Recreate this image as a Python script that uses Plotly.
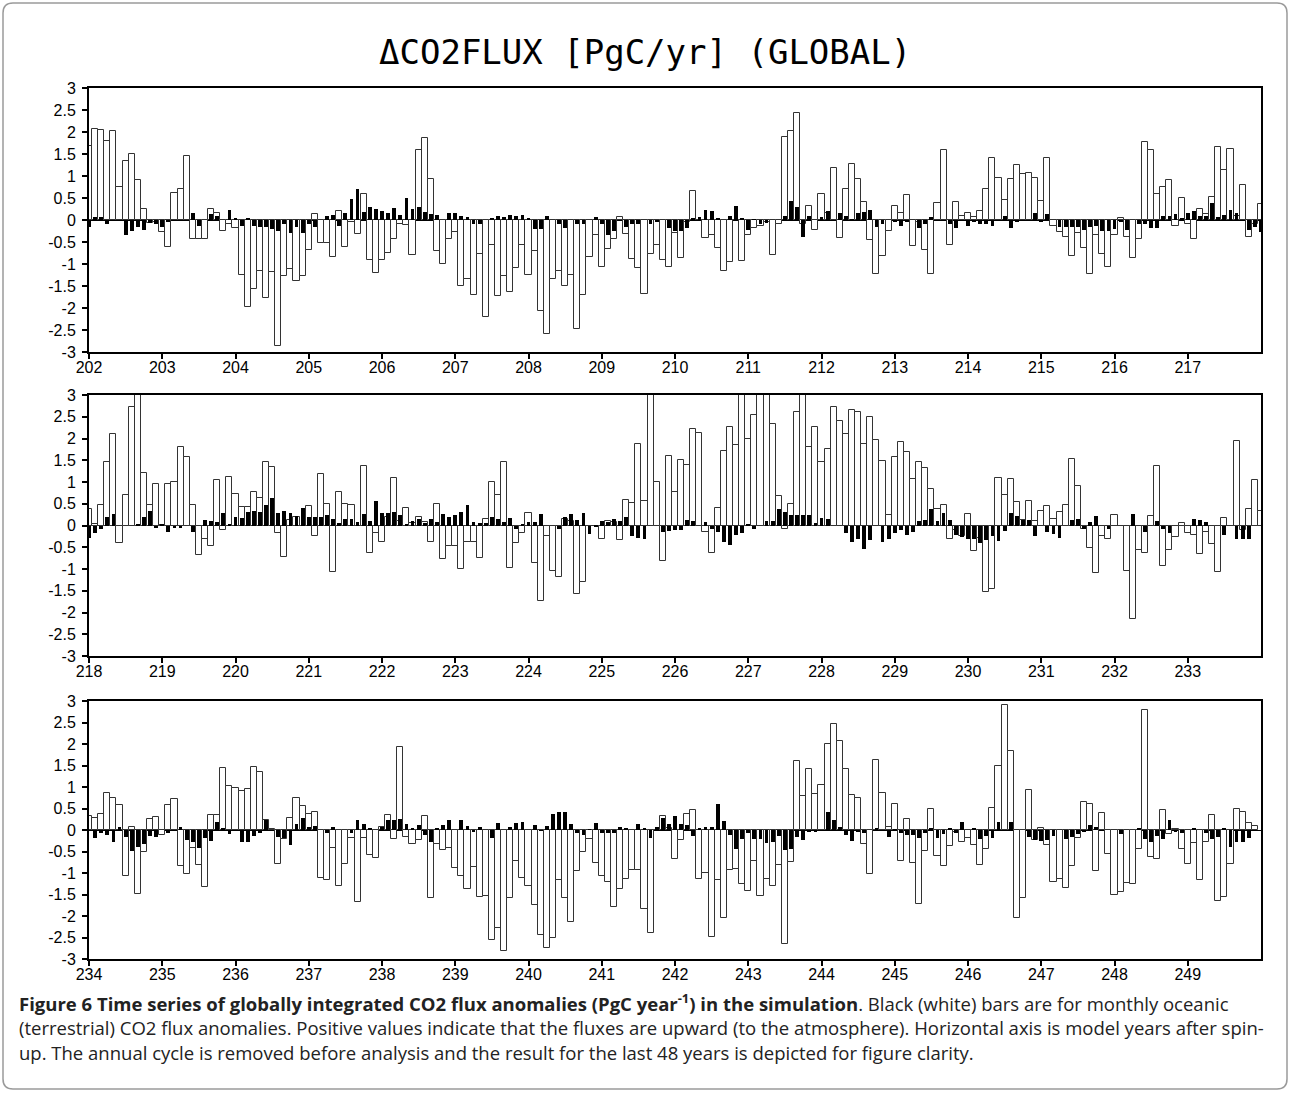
import plotly.graph_objects as go

# ---------------- data (PgC/yr anomalies, monthly) ----------------
panel_start_years = [202, 218, 234]
y_tick_values = [3, 2.5, 2, 1.5, 1, 0.5, 0, -0.5, -1, -1.5, -2, -2.5, -3]

# Panel 1: years 202-217 ; white = terrestrial, black = oceanic
land1 = [1.69, 2.06, 2.04, 1.8, 2.02, 0.74, 1.35, 1.51, 0.92, 0.26, -0.07, -0.05,
         -0.28, -0.62, 0.62, 0.7, 1.45, -0.43, -0.43, -0.43, 0.24, 0.17, -0.24, -0.08,
         -0.18, -1.24, -1.97, -1.57, -1.16, -1.77, -1.18, -2.87, -1.27, -1.11, -1.38, -1.28,
         -0.68, 0.14, -0.53, -0.53, -0.83, 0.2, -0.62, -0.05, -0.32, 0.58, -0.92, -1.2,
         -0.9, -0.75, -0.44, -0.1, -0.11, -0.8, 1.59, 1.86, 0.93, -0.71, -0.99, -0.43,
         -0.28, -1.5, -1.33, -1.71, -0.77, -2.21, -0.56, -1.73, -1.27, -1.63, -1.1, -0.56,
         -1.26, -0.71, -2.06, -2.6, -1.35, -1.17, -1.5, -1.26, -2.48, -1.71, -0.84, -0.33,
         -1.07, -0.66, -0.43, 0.07, -0.32, -0.88, -1.1, -1.69, -0.77, -0.57, -0.92, -1.07,
         -0.3, -0.87, -0.05, 0.65, 0.0, -0.41, -0.35, -0.64, -1.17, -0.95, 0.0, -0.93,
         -0.35, -0.18, -0.13, -0.05, -0.79, -0.09, 1.88, 2.03, 2.44, -0.09, 0.32, -0.22,
         0.58, 0.15, 1.19, -0.41, 0.71, 1.27, 0.94, 0.4, -0.45, -1.22, -0.81, -0.24,
         0.31, 0.15, 0.56, -0.58, -0.05, -0.68, -1.22, 0.39, 1.58, -0.56, 0.4, 0.08,
         0.16, 0.07, 0.21, 0.71, 1.42, 0.96, 0.46, 0.94, 1.26, 1.04, 1.07, 0.95,
         0.43, 1.41, -0.13, -0.28, -0.39, -0.82, -0.3, -0.63, -1.22, -0.35, -0.77, -1.07,
         -0.35, 0.04, -0.38, -0.86, -0.44, 1.77, 1.58, 0.58, 0.75, 0.92, -0.14, 0.51,
         -0.09, -0.43, 0.26, 0.14, 0.53, 1.66, 1.13, 1.62, 0.1, 0.8, -0.39, -0.1]
ocean1 = [-0.15, 0.06, 0.06, -0.08, 0, 0, -0.35, -0.24, -0.15, -0.22, -0.07, -0.08,
          -0.15, -0.03, 0, 0, 0, 0.16, -0.13, 0, 0.14, 0.1, 0, 0.23,
          0.05, -0.13, 0.05, -0.13, -0.15, -0.15, -0.2, -0.26, -0.09, -0.29, -0.15, -0.29,
          -0.09, -0.15, 0, 0.08, 0.11, -0.13, 0.17, 0.47, 0.7, 0.19, 0.3, 0.25,
          0.21, 0.16, 0.27, 0.12, 0.51, 0.25, 0.3, 0.19, 0.14, 0.11, 0, 0.16,
          0.16, 0.1, 0.06, -0.09, -0.09, 0, 0.04, 0.09, 0.06, 0.11, 0.09, 0.11,
          0.05, -0.2, -0.2, 0.09, 0, -0.09, -0.18, 0, -0.09, -0.09, 0, 0.06,
          -0.09, -0.33, -0.26, 0, -0.17, -0.09, -0.09, 0, -0.09, -0.05, 0, -0.18,
          -0.24, -0.24, -0.18, 0.04, 0.06, 0.23, 0.2, 0.04, 0, 0.08, 0.32, 0.04,
          -0.22, 0.02, -0.09, -0.07, 0, 0, 0.09, 0.44, 0.3, -0.38, 0.09, 0,
          0.06, 0.2, -0.02, 0.16, 0.09, 0.02, 0.16, 0.19, 0.23, -0.17, -0.08, 0,
          -0.03, -0.13, -0.05, 0, -0.19, -0.09, 0.06, 0, 0, -0.09, -0.18, 0,
          -0.13, -0.05, -0.09, -0.09, -0.13, 0, 0.09, -0.19, -0.05, 0, 0, 0.16,
          -0.03, 0.14, 0, -0.15, -0.17, -0.17, -0.17, -0.22, -0.17, -0.13, -0.24, -0.26,
          -0.2, -0.05, -0.22, 0, -0.09, -0.08, -0.18, -0.18, 0.09, 0.09, 0.14, 0.04,
          0.16, 0.2, 0.09, 0.09, 0.38, 0.06, 0.11, 0.23, 0.16, 0, -0.22, -0.17]

# Panel 2: years 218-233
land2 = [0.37, 0.03, 0.48, 1.45, 2.11, -0.4, 0.71, 2.72, 3.2, 1.21, 0.48, 0.96,
         0.02, 0.96, 1.01, 1.8, 1.58, 0.48, -0.68, -0.3, -0.48, 1.04, -0.11, 1.12,
         0.72, 0.43, 0.42, 0.77, 0.63, 1.47, 1.35, -0.18, -0.73, 0.13, 0.2, 0.0,
         0.44, -0.24, 1.18, 0.5, -1.06, 0.77, 0.5, 0.47, -0.02, 1.37, -0.64, -0.17,
         -0.38, 0.2, 1.1, 0.1, 0.41, 0.05, 0.2, 0.09, -0.37, 0.49, -0.77, -0.47,
         -0.46, -0.99, -0.37, -0.37, -0.74, 0.16, 0.99, 0.69, 1.45, -0.97, -0.41, -0.18,
         0.28, -0.87, -1.73, -0.25, -1.04, -1.18, 0.14, 0.1, -1.57, -1.31, -0.02, 0.0,
         -0.3, 0.1, 0.08, -0.33, 0.58, 0.52, 1.87, 0.57, 3.3, 1.01, -0.82, 1.6,
         0.76, 1.51, 1.4, 2.23, 2.12, -0.15, -0.63, 0.41, 1.71, 2.26, 1.84, 3.3,
         2.0, 2.55, 3.3, 3.3, 2.34, 0.67, -0.07, 0.5, 2.62, 3.3, 1.81, 2.26,
         1.45, 1.77, 2.72, 2.41, 2.11, 2.66, 2.62, 1.87, 2.5, 1.97, 1.48, 0.25,
         1.58, 1.93, 1.68, 1.08, 1.45, 1.32, 0.85, 0.39, 0.47, -0.32, -0.1, -0.24,
         0.26, -0.58, -0.28, -1.54, -1.47, 1.1, 0.69, 1.06, 0.54, 0.13, 0.57, 0.1,
         0.34, 0.45, 0.15, 0.32, 0.47, 1.54, 0.9, -0.07, -0.51, -1.1, -0.25, -0.3,
         0.25, 0.0, -1.05, -2.14, -0.57, -0.64, 0.22, 1.36, -0.93, -0.56, -0.27, 0.05,
         -0.18, -0.22, -0.66, -0.15, -0.43, -1.07, 0.18, 0.0, 1.94, -0.11, 0.38, 1.04]
ocean2 = [-0.28, -0.18, -0.08, 0.19, 0.27, 0, 0, 0, 0.02, 0.19, 0.34, -0.06,
          0.02, -0.15, -0.05, -0.06, 0, -0.14, 0, 0.12, 0.1, 0.08, 0.28, 0.02,
          0.19, 0.18, 0.31, 0.34, 0.31, 0.47, 0.64, 0.29, 0.34, 0.28, 0.22, 0.41,
          0.2, 0.2, 0.2, 0.25, 0.16, 0.06, 0.14, 0.16, 0.08, 0.27, 0.1, 0.57,
          0.28, 0.28, 0.31, 0.25, 0.04, 0.11, 0.16, 0.05, 0.15, 0.08, 0.27, 0.2,
          0.24, 0.31, 0.47, 0.08, 0.06, 0.06, 0.2, 0.15, 0.08, 0.18, -0.08, 0.03,
          0.08, 0.08, 0.27, 0, 0, -0.08, 0.19, 0.27, 0.13, 0.28, -0.2, -0.03,
          0.11, 0.08, 0.15, 0.11, 0.19, -0.24, -0.28, -0.31, 0, 0, -0.15, -0.13,
          -0.11, -0.11, 0.13, 0.11, 0, 0.08, -0.07, -0.14, -0.39, -0.44, -0.21, -0.18,
          0.03, -0.07, 0, 0.1, 0.1, 0.37, 0.31, 0.24, 0.24, 0.24, 0.24, 0.05,
          0.18, 0.15, 0, 0, -0.18, -0.39, -0.32, -0.54, -0.34, 0, -0.37, -0.32,
          -0.18, -0.11, -0.21, -0.14, 0.11, 0.13, 0.37, 0.11, 0.29, 0.13, -0.22, -0.26,
          -0.3, -0.3, -0.41, -0.34, -0.24, -0.36, -0.13, 0.29, 0.22, 0.13, 0.13, -0.25,
          0, -0.16, -0.2, -0.28, 0, 0.13, 0.15, -0.08, 0.08, 0.22, 0, -0.08,
          0, 0, 0, 0.26, 0, -0.16, 0, 0.1, -0.08, -0.18, 0, 0,
          0, 0.16, 0.13, 0.08, 0, 0, -0.22, 0, -0.3, -0.3, -0.3, 0]

# Panel 3: years 234-249
land3 = [0.33, 0.27, 0.38, 0.85, 0.74, 0.59, -1.06, 0.07, -1.49, -0.5, 0.25, 0.31,
         -0.12, 0.59, 0.71, -0.83, -1.02, -0.41, -0.81, -1.33, 0.35, 0.35, 1.45, 1.03,
         0.97, 0.91, 0.95, 1.47, 1.36, 0.23, 0.03, -0.79, -0.2, 0.29, 0.74, 0.56,
         0.37, 0.41, -1.11, -1.17, -0.42, -1.3, -0.78, -0.19, -1.68, -0.19, -0.59, -0.64,
         0.07, 0.36, -0.22, 1.93, -0.17, -0.32, -0.23, 0.32, -1.57, -0.33, -0.46, -0.41,
         -0.88, -1.06, -1.38, -0.85, -1.56, -1.54, -2.55, -2.27, -2.81, -1.57, -0.71, -1.12,
         -1.31, -1.75, -2.45, -2.75, -2.51, -1.17, -1.57, -2.15, -0.96, -0.5, -0.22, -0.76,
         -1.07, -1.2, -1.8, -1.38, -1.14, -0.93, -0.93, -1.84, -2.4, 0.0, 0.33, 0.05,
         -0.67, -0.23, 0.38, 0.46, -1.15, -1.0, -2.48, -1.16, -2.05, -0.93, -0.91, -1.26,
         -1.41, -0.72, -1.53, -1.14, -1.3, -0.82, -2.65, -0.74, 1.6, 0.8, 1.42, 0.83,
         1.04, 2.01, 2.46, 2.08, 1.43, 0.81, 0.74, -0.33, -1.03, 1.62, 0.85, 0.07,
         0.6, -0.72, 0.25, -0.76, -1.72, -0.49, 0.5, -0.6, -0.84, -0.37, -0.04, -0.27,
         -0.18, -0.34, -0.81, -0.44, 0.52, 1.5, 2.91, 1.84, -2.05, -1.59, 0.93, -0.23,
         0.04, -0.36, -1.2, -1.14, -1.36, -0.84, -0.18, 0.64, 0.61, -0.95, 0.39, -0.56,
         -1.52, -1.45, -1.23, -1.26, -0.44, 2.78, -0.63, -0.68, 0.46, -0.1, 0.02, -0.44,
         -0.78, -0.31, -1.17, -0.29, 0.36, -1.65, -1.55, -0.78, 0.5, 0.43, 0.17, 0.1]
ocean3 = [0, -0.19, -0.06, -0.12, -0.27, 0.06, -0.16, -0.48, -0.4, -0.33, -0.13, -0.17,
          0, -0.08, -0.02, 0.06, -0.23, -0.29, -0.43, -0.19, -0.25, 0.18, 0.05, -0.1,
          0, -0.27, -0.27, -0.13, -0.06, 0.23, 0, -0.16, -0.19, -0.36, 0.14, 0.29,
          0.06, 0.09, 0, -0.08, 0.06, 0, 0, -0.08, 0.23, 0.14, 0.05, 0,
          0.07, 0.23, 0.23, 0.26, 0.14, 0.05, 0.12, -0.12, -0.29, 0.05, 0.12, 0.23,
          0, 0.23, 0.09, -0.05, 0.06, 0, -0.19, 0.16, 0, 0.07, 0.16, 0.19,
          0, 0.12, -0.02, 0.09, 0.37, 0.42, 0.42, 0.14, -0.08, -0.12, 0.02, 0.16,
          -0.08, -0.08, -0.08, 0.07, 0.05, 0, 0.14, 0.05, -0.19, 0.06, 0.29, 0.14,
          0.33, 0.14, 0.12, -0.13, 0.05, 0.07, 0.08, 0.6, 0.2, -0.12, -0.44, -0.2,
          -0.07, -0.2, -0.2, -0.3, -0.27, -0.14, -0.47, -0.45, -0.17, -0.23, -0.05, -0.05,
          0, 0.42, 0.24, 0.07, -0.11, -0.25, -0.05, -0.06, 0, 0.04, 0, -0.16,
          0.02, -0.08, -0.12, -0.12, -0.19, -0.08, 0.04, -0.19, -0.1, 0.04, -0.08, 0.18,
          0, 0.05, -0.22, -0.13, -0.19, 0.18, 0, 0.18, 0, 0, -0.17, -0.23,
          -0.25, -0.23, -0.14, 0, -0.22, -0.17, -0.1, -0.05, 0.12, 0.07, 0, 0,
          0, -0.1, 0, 0, 0.03, -0.22, -0.29, -0.13, -0.22, 0.24, -0.05, -0.08,
          0, 0.03, 0, -0.06, -0.22, -0.16, 0.05, -0.39, -0.27, -0.27, -0.19, 0]

title_text = "ΔCO2FLUX [PgC/yr] (GLOBAL)"
caption_lines = [
    "<b>Figure 6 Time series of globally integrated CO2 flux anomalies (PgC year<sup>-1</sup>) in the simulation</b>. "
    "Black (white) bars are for monthly oceanic",
    "(terrestrial) CO2 flux anomalies. Positive values indicate that the fluxes are upward (to the atmosphere). "
    "Horizontal axis is model years after spin-",
    "up. The annual cycle is removed before analysis and the result for the last 48 years is depicted for figure clarity.",
]

# ---------------- layout helpers ----------------
W, H = 1290, 1096
X0, X1 = 89, 1261
panel_px = [(88, 352), (395, 656), (701, 959)]


def px(x):
    return x / W


def py(y):
    return 1 - y / H


lands = [land1, land2, land3]
oceans = [ocean1, ocean2, ocean3]

fig = go.Figure()
layout_axes = {}
for i in range(3):
    s = panel_start_years[i]
    land = list(lands[i])
    ocean = list(oceans[i])
    if i < 2:  # first month of next panel, half-visible at the right edge
        land.append(lands[i + 1][0])
        ocean.append(oceans[i + 1][0])
    xs = [s + k / 12 for k in range(len(land))]
    xa = "x" if i == 0 else f"x{i + 1}"
    ya = "y" if i == 0 else f"y{i + 1}"
    fig.add_trace(go.Bar(x=xs, y=land, width=1 / 12,
                         marker=dict(color="white", line=dict(color="#333333", width=1)),
                         xaxis=xa, yaxis=ya, showlegend=False, name="terrestrial"))
    fig.add_trace(go.Bar(x=xs, y=ocean, width=0.62 / 12,
                         marker=dict(color="black", line=dict(width=0)),
                         xaxis=xa, yaxis=ya, showlegend=False, name="oceanic"))
    top, bot = panel_px[i]
    xkey = "xaxis" if i == 0 else f"xaxis{i + 1}"
    ykey = "yaxis" if i == 0 else f"yaxis{i + 1}"
    ticks_x = list(range(s, s + 16))
    layout_axes[xkey] = dict(
        domain=[px(X0), px(X1)], range=[s, s + 16], anchor=ya, automargin=False,
        tickmode="array", tickvals=ticks_x, ticktext=[str(t) for t in ticks_x],
        ticks="outside", ticklen=5, tickwidth=1.5, tickcolor="black",
        showline=True, linewidth=2, linecolor="black", mirror=True,
        showgrid=False, zeroline=False,
        tickfont=dict(family="Liberation Sans", size=16, color="black"),
    )
    layout_axes[ykey] = dict(
        domain=[py(bot), py(top)], range=[-3, 3], anchor=xa, automargin=False,
        tickmode="array", tickvals=y_tick_values,
        ticktext=[f"{v:g}" for v in y_tick_values],
        ticks="outside", ticklen=5, tickwidth=1.5, tickcolor="black",
        showline=True, linewidth=2, linecolor="black", mirror=True,
        showgrid=False, zeroline=True, zerolinecolor="black", zerolinewidth=1,
        tickfont=dict(family="Liberation Sans", size=16, color="black"),
    )

annotations = [dict(x=0.5, y=py(52), xref="paper", yref="paper", text=title_text,
                    showarrow=False, xanchor="center", yanchor="middle",
                    font=dict(family="DejaVu Sans Mono", size=34, color="black"))]
for j, line in enumerate(caption_lines):
    annotations.append(dict(x=px(17), y=py(1002 + 25 * j), xref="paper", yref="paper",
                            text=line, showarrow=False, xanchor="left", yanchor="middle",
                            font=dict(family="Open Sans", size=18.5, color="#222222")))

# rounded outer border
r = 10
L, T, R, B = 3, 3, 1287, 1089
path = (f"M {px(L + r)},{py(T)} L {px(R - r)},{py(T)} Q {px(R)},{py(T)} {px(R)},{py(T + r)} "
        f"L {px(R)},{py(B - r)} Q {px(R)},{py(B)} {px(R - r)},{py(B)} "
        f"L {px(L + r)},{py(B)} Q {px(L)},{py(B)} {px(L)},{py(B - r)} "
        f"L {px(L)},{py(T + r)} Q {px(L)},{py(T)} {px(L + r)},{py(T)} Z")
shapes = [dict(type="path", xref="paper", yref="paper", path=path,
               line=dict(color="#9a9a9a", width=1.5), fillcolor="rgba(0,0,0,0)")]

fig.update_layout(
    width=W, height=H, autosize=False,
    margin=dict(l=0, r=0, t=0, b=0, pad=0, autoexpand=False),
    paper_bgcolor="white", plot_bgcolor="white",
    barmode="overlay", bargap=0,
    annotations=annotations, shapes=shapes,
    **layout_axes,
)

# pull x tick labels slightly closer to the axis, push y labels a bit left
try:
    for i in range(3):
        xk = "xaxis" if i == 0 else f"xaxis{i + 1}"
        yk = "yaxis" if i == 0 else f"yaxis{i + 1}"
        fig.layout[xk].ticklabelstandoff = -5
        fig.layout[yk].ticklabelstandoff = 3
except Exception:
    pass

fig.write_html("out.html")
